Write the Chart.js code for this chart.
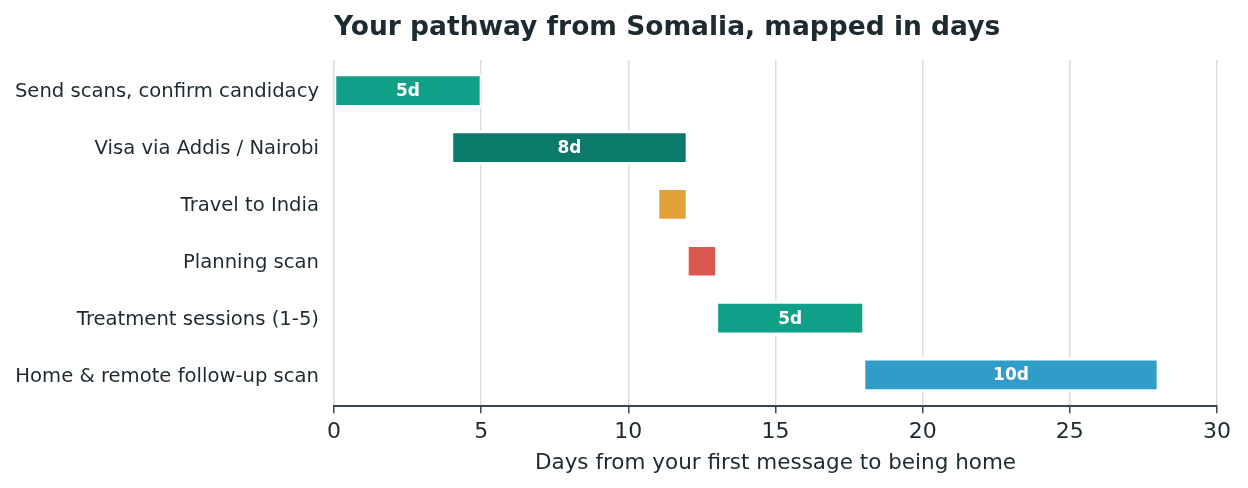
<!DOCTYPE html>
<html>
<head>
<meta charset="utf-8">
<script src="https://cdn.jsdelivr.net/npm/chart.js@4.4.1/dist/chart.umd.min.js"></script>
<style>
  html, body { margin: 0; padding: 0; background: #fff; }
  #wrap { width: 1248px; height: 488px; }
</style>
</head>
<body>
<div id="wrap"><canvas id="grafico"></canvas></div>
<script>
// datos del gráfico
const etapas = [
  'Send scans, confirm candidacy',
  'Visa via Addis / Nairobi',
  'Travel to India',
  'Planning scan',
  'Treatment sessions (1-5)',
  'Home & remote follow-up scan'
];
const inicio = [0, 4, 11, 12, 13, 18];
const fin = [5, 12, 12, 13, 18, 28];
const etiquetas = ['5d', '8d', '', '', '5d', '10d'];
const colores = ['#10a087', '#0c7a6a', '#e2a23b', '#db5750', '#2f9dc7'];
const coloresBarras = [colores[0], colores[1], colores[2], colores[3], colores[0], colores[4]];
const ticksX = [0, 5, 10, 15, 20, 25, 30];

const texto = '#1d2a30';
const fuente = "'DejaVu Sans', sans-serif";

const etiquetasBarras = {
  id: 'etiquetasBarras',
  afterDatasetsDraw(chart) {
    const ctx = chart.ctx;
    const meta = chart.getDatasetMeta(0);
    ctx.save();
    ctx.fillStyle = '#ffffff';
    ctx.font = 'bold 17px ' + fuente;
    ctx.textAlign = 'center';
    ctx.textBaseline = 'middle';
    meta.data.forEach((bar, i) => {
      if (!etiquetas[i]) return;
      const p = bar.getProps(['x', 'y', 'base'], true);
      ctx.fillText(etiquetas[i], (p.x + p.base) / 2, p.y + 1);
    });
    ctx.restore();
  }
};

const ctx = document.getElementById('grafico').getContext('2d');
new Chart(ctx, {
  type: 'bar',
  data: {
    datasets: [{
      data: etapas.map((_, i) => ({ x: [inicio[i], fin[i]], y: i })),
      backgroundColor: coloresBarras,
      borderColor: '#ffffff',
      borderWidth: { top: 3, bottom: 3, left: 1.5, right: 1.5 },
      borderSkipped: false,
      barPercentage: 0.61,
      categoryPercentage: 1
    }]
  },
  options: {
    indexAxis: 'y',
    responsive: true,
    maintainAspectRatio: false,
    animation: false,
    layout: { padding: { left: 0, right: 31, top: 0, bottom: 12 } },
    plugins: {
      legend: { display: false },
      tooltip: { enabled: false },
      title: {
        display: true,
        text: 'Your pathway from Somalia, mapped in days',
        align: 'start',
        fullSize: false,
        color: texto,
        font: { family: fuente, size: 26.5, weight: 'bold' },
        padding: { top: 12, bottom: 16.2 }
      }
    },
    scales: {
      x: {
        type: 'linear',
        min: 0,
        max: 30,
        afterBuildTicks: (scale) => { scale.ticks = ticksX.map(v => ({ value: v })); },
        grid: {
          color: '#dddddd',
          lineWidth: 1.5,
          drawTicks: true,
          tickLength: 7,
          tickColor: '#37474f',
          tickWidth: 1.5
        },
        border: { display: true, color: '#37474f', width: 2 },
        ticks: {
          color: texto,
          font: { family: fuente, size: 22, lineHeight: 1 },
          padding: 8.5
        },
        title: {
          display: true,
          text: 'Days from your first message to being home',
          color: texto,
          font: { family: fuente, size: 21.5 },
          padding: { top: -2, bottom: 0 }
        }
      },
      y: {
        type: 'linear',
        reverse: true,
        min: -0.54,
        max: 5.55,
        offset: false,
        grid: { display: false, drawTicks: false },
        border: { display: false },
        afterBuildTicks: (scale) => { scale.ticks = etapas.map((_, i) => ({ value: i })); },
        afterFit: (scale) => { scale.width = 334; },
        ticks: {
          color: texto,
          font: { family: fuente, size: 19.6 },
          padding: 15,
          labelOffset: 1.5,
          callback: (v) => etapas[v]
        }
      }
    }
  },
  plugins: [etiquetasBarras]
});
</script>
</body>
</html>
